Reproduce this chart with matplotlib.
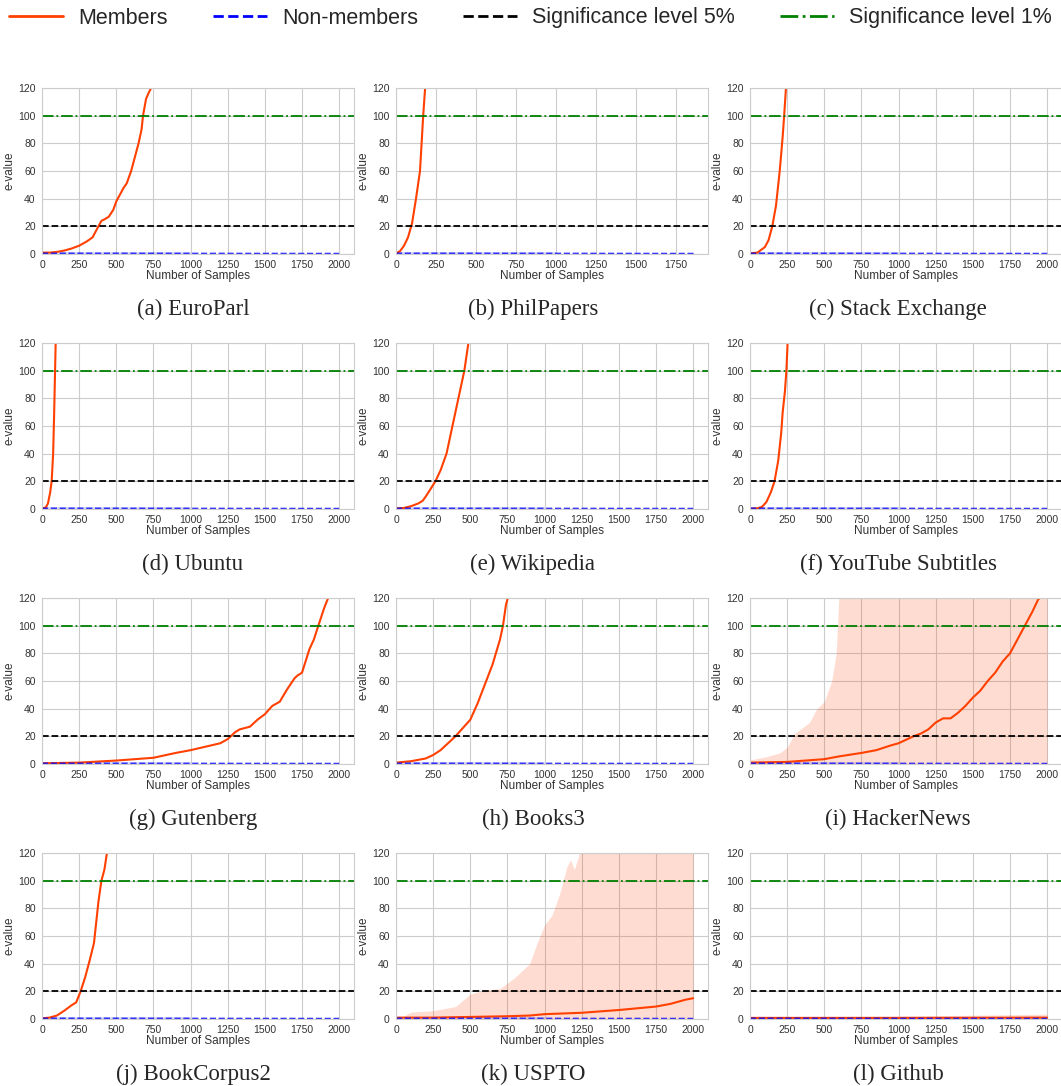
import matplotlib
matplotlib.use('Agg')
import matplotlib.pyplot as plt
import seaborn as sns
from matplotlib.lines import Line2D

sns.set_style('whitegrid')
plt.rcParams['font.family'] = ['Liberation Sans', 'DejaVu Sans']

MEMBER_COLOR = '#ff4000'

# captions of the panels
CAPTIONS = ['(a) EuroParl', '(b) PhilPapers', '(c) Stack Exchange',
            '(d) Ubuntu', '(e) Wikipedia', '(f) YouTube Subtitles',
            '(g) Gutenberg', '(h) Books3', '(i) HackerNews',
            '(j) BookCorpus2', '(k) USPTO', '(l) Github']

# e-value of members (x = number of samples)
europarl_x = [0, 50, 100, 150, 200, 250, 300, 340, 380, 400, 420, 450, 480, 500, 530, 550, 570, 600, 620, 650, 670, 680, 700, 720, 740]
europarl_y = [1, 1, 1.5, 2.5, 4, 6, 9, 12, 20, 24, 25, 27, 32, 38, 44, 48, 51, 60, 68, 80, 90, 100, 112, 117, 121]
philpapers_x = [0, 25, 50, 75, 100, 125, 150, 160, 170, 185]
philpapers_y = [0.5, 2, 6, 12, 22, 40, 60, 80, 100, 125]
stackex_x = [0, 50, 100, 125, 150, 175, 200, 220, 230, 245]
stackex_y = [0.5, 1, 5, 10, 20, 35, 60, 85, 100, 125]
ubuntu_x = [0, 25, 40, 55, 65, 75, 82, 88, 93]
ubuntu_y = [0.5, 1, 4, 12, 20, 40, 70, 100, 125]
wiki_x = [0, 50, 100, 150, 180, 200, 230, 265, 300, 340, 380, 410, 440, 460, 490]
wiki_y = [0.5, 0.7, 2, 4, 6, 9, 14, 20, 28, 40, 60, 75, 90, 100, 122]
youtube_x = [0, 50, 80, 110, 140, 165, 190, 210, 220, 235, 245, 255]
youtube_y = [0.3, 0.5, 1.5, 5, 12, 20, 35, 55, 70, 85, 100, 125]
gutenberg_x = [0, 250, 500, 750, 900, 1000, 1100, 1200, 1250, 1300, 1330, 1400, 1450, 1500, 1550,
               1600, 1650, 1700, 1720, 1750, 1800, 1830, 1860, 1900, 1930]
gutenberg_y = [0.5, 1, 2.5, 4.5, 8, 10, 12.5, 15, 18, 23, 25, 27, 32, 36, 42,
               45, 54, 62, 64, 66, 83, 90, 100, 113, 121]
books3_x = [0, 100, 200, 250, 300, 350, 400, 450, 500, 550, 600, 650, 700, 720, 740, 755]
books3_y = [1, 2, 4, 6.5, 10, 15, 20, 26, 32, 44, 58, 72, 90, 100, 115, 121]
hn_x = [0, 250, 500, 600, 750, 850, 950, 1000, 1100, 1150, 1200, 1250, 1300, 1350, 1400,
        1450, 1500, 1550, 1600, 1650, 1700, 1750, 1800, 1850, 1900, 1940, 1960]
hn_y = [1, 1.5, 3.5, 5.5, 8, 10, 13.5, 15, 20, 22, 25, 30, 33, 33, 37,
        42, 48, 53, 60, 66, 74, 80, 90, 100, 110, 119, 121]
bookcorpus_x = [0, 50, 100, 150, 200, 230, 260, 290, 320, 350, 380, 400, 420, 440]
bookcorpus_y = [0.5, 1, 2.5, 6, 10, 12, 20, 30, 42, 55, 85, 100, 108, 122]
uspto_x = [0, 250, 500, 750, 900, 1000, 1250, 1500, 1750, 1850, 1950, 2000]
uspto_y = [1, 1, 1.5, 2, 2.5, 3.5, 4.5, 6.5, 9, 11, 14, 15]
github_x = [0, 500, 1000, 1500, 2000]
github_y = [0.8, 0.8, 0.8, 0.9, 1.0]

# upper edge of the members' shaded band (only drawn for three panels)
hn_band_x = [0, 100, 200, 250, 300, 400, 450, 500, 550, 580, 600, 2000]
hn_band_y = [3, 5, 8, 12, 22, 30, 40, 45, 60, 80, 125, 125]
uspto_band_x = [0, 50, 100, 250, 400, 500, 600, 700, 800, 900, 950, 1000, 1050, 1100, 1150, 1175, 1200, 1250, 2000]
uspto_band_y = [1, 2, 5, 6, 9, 18, 21, 22, 30, 40, 55, 68, 75, 90, 110, 115, 108, 125, 125]
github_band_x = [0, 1000, 2000]
github_band_y = [1.5, 2, 3.5]

# non-members stay around 0.4 all the way
nonmember_y = [0.5, 0.4, 0.3]
nonmember_band_x = [0, 1000]
nonmember_band_lo = [0, 0]
nonmember_band_hi = [1.5, 1.5]

members = [(europarl_x, europarl_y), (philpapers_x, philpapers_y), (stackex_x, stackex_y),
           (ubuntu_x, ubuntu_y), (wiki_x, wiki_y), (youtube_x, youtube_y),
           (gutenberg_x, gutenberg_y), (books3_x, books3_y), (hn_x, hn_y),
           (bookcorpus_x, bookcorpus_y), (uspto_x, uspto_y), (github_x, github_y)]
bands = {8: (hn_band_x, hn_band_y), 10: (uspto_band_x, uspto_band_y), 11: (github_band_x, github_band_y)}

fig = plt.figure(figsize=(10.61, 10.86), dpi=100)

lefts = [42, 396, 750]
caption_x = [193, 533, 898]
tops = [88, 343, 598, 853]
W, H = 1061.0, 1086.0

for i in range(12):
    r, c = divmod(i, 3)
    ax = fig.add_axes([lefts[c] / W, 1 - (tops[r] + 166) / H, 312 / W, 166 / H])
    xmax = 1950 if i == 1 else 2100
    nm_end = 1860 if i == 1 else 2000

    if i in bands:
        bx, by = bands[i]
        ax.fill_between(bx, 0, by, color=MEMBER_COLOR, alpha=0.18, lw=0)
    ax.fill_between(nonmember_band_x, nonmember_band_lo, nonmember_band_hi, color='blue', alpha=0.15, lw=0)
    mx, my = members[i]
    ax.plot(mx, my, color=MEMBER_COLOR, lw=1.5)
    ax.plot([0, 1000, nm_end], nonmember_y, color='blue', ls='--', lw=1.2, alpha=0.8)
    ax.axhline(20, color='black', ls='--', lw=1.3)
    ax.axhline(100, color='green', ls='-.', lw=1.3)

    ax.set_xlim(0, xmax)
    ax.set_ylim(0, 120)
    ax.set_xticks(range(0, 2001 if i != 1 else 1751, 250))
    ax.set_yticks(range(0, 121, 20))
    ax.tick_params(labelsize=7.5, pad=1, colors='#333333')
    ax.set_xlabel('Number of Samples', fontsize=8.5, labelpad=0, color='#333333')
    ax.set_ylabel('e-value', fontsize=8.5, labelpad=2, color='#333333')
    for s in ax.spines.values():
        s.set_color('#cccccc')

    fig.text(caption_x[c] / W, 1 - (tops[r] + 221) / H, CAPTIONS[i],
             ha='center', va='center', fontsize=16.5, family=['Liberation Serif', 'DejaVu Serif'])

handles = [Line2D([], [], color=MEMBER_COLOR, lw=2),
           Line2D([], [], color='blue', ls='--', lw=2),
           Line2D([], [], color='black', ls='--', lw=2),
           Line2D([], [], color='green', ls='-.', lw=2)]
labels = ['Members', 'Non-members', 'Significance level 5%', 'Significance level 1%']
fig.legend(handles, labels, loc='center', bbox_to_anchor=(0.5, 1 - 18 / H), ncol=4,
           frameon=False, fontsize=15.5, handlelength=2.5, handletextpad=0.7, columnspacing=2.1)

fig.savefig('out.png', dpi=100)
